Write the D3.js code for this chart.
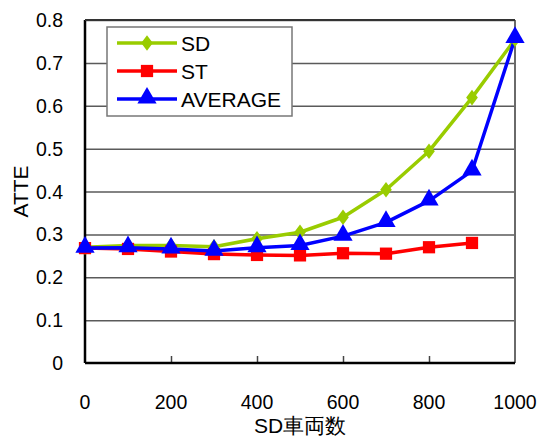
<!DOCTYPE html>
<html>
<head>
<meta charset="utf-8">
<script src="https://d3js.org/d3.v7.min.js"></script>
<style>
  body { margin: 0; background: #fff; }
  text { font-family: "Liberation Sans", Arial, sans-serif; }
</style>
</head>
<body>
<script>
    // data
    var xValues = [0, 100, 200, 300, 400, 500, 600, 700, 800, 900, 1000];
    var sdValues = [0.270, 0.274, 0.274, 0.271, 0.290, 0.305, 0.340, 0.404, 0.494, 0.619, 0.755];
    var stValues = [0.268, 0.266, 0.260, 0.254, 0.252, 0.251, 0.256, 0.255, 0.270, 0.280];
    var avgValues = [0.268, 0.269, 0.266, 0.261, 0.269, 0.274, 0.296, 0.328, 0.378, 0.448, 0.757];
    var yTicks = [0, 0.1, 0.2, 0.3, 0.4, 0.5, 0.6, 0.7, 0.8];
    var xTicks = [0, 200, 400, 600, 800, 1000];
    var seriesNames = ["SD", "ST", "AVERAGE"];
    var seriesColors = ["#99cc00", "#ff0000", "#0000ff"];

    //Margins
    var margin = {top: 20, right: 25, bottom: 73, left: 85},
        width = 540 - margin.left - margin.right,
        height = 436 - margin.top - margin.bottom;

    var x = d3.scaleLinear().domain([0, 1000]).range([0, width]);
    var y = d3.scaleLinear().domain([0, 0.8]).range([height, 0]);

    var svg = d3.select("body")
        .append("svg")
        .attr("width", 540)
        .attr("height", 436)
        .append("g")
        .attr("transform", "translate(" + margin.left + "," + margin.top + ")");

    // gridlines
    svg.append("g")
        .call(d3.axisLeft(y).tickValues(yTicks.slice(1)).tickSize(-width).tickFormat(""))
        .call(function(g) { g.select(".domain").remove(); })
        .selectAll("line")
        .attr("stroke", "#5a5a5a")
        .attr("stroke-width", 1.5);

    // right border
    svg.append("line")
        .attr("x1", width).attr("x2", width)
        .attr("y1", 0).attr("y2", height)
        .attr("stroke", "#6a6a6a").attr("stroke-width", 2);

    // x ticks pointing inward
    svg.append("g")
        .attr("transform", "translate(0," + height + ")")
        .call(d3.axisBottom(x).tickValues(xTicks.slice(1, 5)).tickSize(-7).tickFormat(""))
        .call(function(g) { g.select(".domain").remove(); })
        .selectAll("line")
        .attr("stroke", "#444")
        .attr("stroke-width", 1.5);

    // axis lines
    svg.append("line")
        .attr("x1", 0).attr("x2", 0).attr("y1", 0).attr("y2", height)
        .attr("stroke", "#000").attr("stroke-width", 2.5);
    svg.append("line")
        .attr("x1", 0).attr("x2", width).attr("y1", height).attr("y2", height)
        .attr("stroke", "#000").attr("stroke-width", 2.5);

    // tick labels
    svg.selectAll(".ylab")
        .data(yTicks)
        .enter()
        .append("text")
        .attr("x", -22)
        .attr("y", function(d) { return y(d); })
        .attr("dy", "0.36em")
        .style("text-anchor", "end")
        .style("font-size", "19.5px")
        .text(function(d) { return d === 0 ? "0" : d3.format(".1f")(d); });

    svg.selectAll(".xlab")
        .data(xTicks)
        .enter()
        .append("text")
        .attr("x", function(d) { return x(d); })
        .attr("y", height + 46)
        .style("text-anchor", "middle")
        .style("font-size", "19.5px")
        .text(function(d) { return d; });

    // axis titles
    svg.append("text")
        .attr("transform", "rotate(-90)")
        .attr("x", -(y(0.4)))
        .attr("y", -57)
        .style("text-anchor", "middle")
        .style("font-size", "21px")
        .text("ATTE");

    svg.append("text")
        .attr("x", x(500))
        .attr("y", height + 70)
        .style("text-anchor", "middle")
        .style("font-size", "21px")
        .text("SD車両数");

    var allSeries = [sdValues, stValues, avgValues];
    var line = d3.line()
        .x(function(d, i) { return x(xValues[i]); })
        .y(function(d) { return y(d); });

    var diamond = d3.symbol().type(d3.symbolDiamond).size(70);
    var square = d3.symbol().type(d3.symbolSquare).size(150);
    var triangle = d3.symbol().type(d3.symbolTriangle).size(160);
    var shapes = [diamond, square, triangle];

    allSeries.forEach(function(vals, s) {
        svg.append("path")
            .datum(vals)
            .attr("d", line)
            .attr("fill", "none")
            .attr("stroke", seriesColors[s])
            .attr("stroke-width", 3.5)
            .attr("stroke-linejoin", "round");
    });

    allSeries.forEach(function(vals, s) {
        svg.selectAll(".m" + s)
            .data(vals)
            .enter()
            .append("path")
            .attr("d", shapes[s])
            .attr("transform", function(d, i) {
                return "translate(" + x(xValues[i]) + "," + (y(d) + (s === 2 ? -1 : 0)) + ")" + (s === 0 ? " scale(1.3,1)" : "");
            })
            .attr("fill", seriesColors[s]);
    });

    // top border
    svg.append("line")
        .attr("x1", 0).attr("x2", width).attr("y1", 0).attr("y2", 0)
        .attr("stroke", "#333").attr("stroke-width", 2);

    // legend
    var legend = svg.append("g").attr("transform", "translate(22,7)");
    legend.append("rect")
        .attr("width", 185).attr("height", 89)
        .attr("fill", "#fff")
        .attr("stroke", "#777").attr("stroke-width", 1.5);

    seriesNames.forEach(function(name, s) {
        var ly = 16 + s * 28;
        legend.append("line")
            .attr("x1", 10).attr("x2", 70)
            .attr("y1", ly).attr("y2", ly)
            .attr("stroke", seriesColors[s]).attr("stroke-width", 3.5);
        legend.append("path")
            .attr("d", shapes[s])
            .attr("transform", "translate(40," + (ly + (s === 2 ? -1 : 0)) + ")" + (s === 0 ? " scale(1.3,1)" : ""))
            .attr("fill", seriesColors[s]);
        legend.append("text")
            .attr("x", 74)
            .attr("y", ly)
            .attr("dy", "0.36em")
            .style("font-size", "21px")
            .text(name);
    });
</script>
</body>
</html>
